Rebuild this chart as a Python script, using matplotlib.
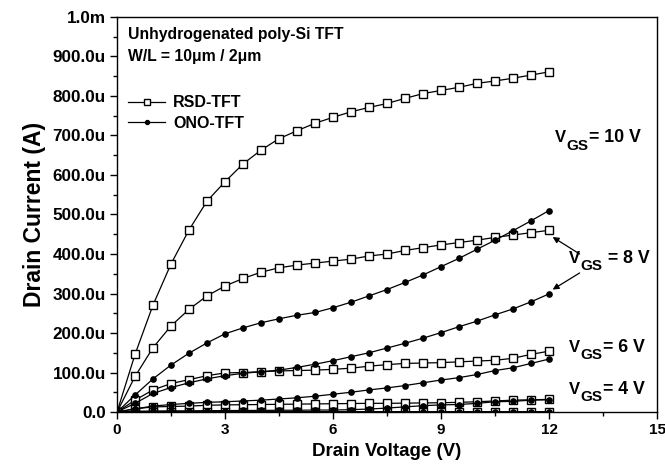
import matplotlib
matplotlib.use("Agg")
import matplotlib.pyplot as plt
from matplotlib.ticker import FuncFormatter, MultipleLocator
from matplotlib.transforms import offset_copy

plt.rcParams["font.family"] = ["Liberation Sans", "DejaVu Sans"]
plt.rcParams["font.weight"] = "bold"

# drain voltage sweep (V)
vd = [0, 0.5, 1, 1.5, 2, 2.5, 3, 3.5, 4, 4.5, 5, 5.5, 6,
      6.5, 7, 7.5, 8, 8.5, 9, 9.5, 10, 10.5, 11, 11.5, 12]

# drain current in uA
rsd_10 = [0, 146, 271, 375, 461, 534, 583, 628, 663, 692, 712, 731, 746,
          760, 771, 781, 794, 806, 814, 822, 832, 838, 845, 853, 861]
rsd_8 = [0, 90, 163, 218, 260, 294, 319, 338, 354, 365, 372, 377, 382,
         387, 395, 400, 409, 416, 423, 429, 435, 442, 448, 454, 460]
rsd_6 = [0, 30, 56, 72, 82, 92, 99, 100, 102, 104, 105, 106, 108,
         111, 116, 120, 123, 124, 125, 127, 129, 131, 136, 146, 154]
rsd_4 = [0, 8, 13, 14, 15, 17, 18, 18.5, 19, 19.5, 20, 20.5, 21,
         21.5, 22, 22, 22.5, 23, 23.5, 24.5, 26, 28, 30, 31, 32]
rsd_2 = [0, 0.5, 0.8, 1, 1, 1, 1, 1, 1, 1, 1, 1, 1,
         1, 1, 1, 1, 1, 1, 1, 1, 1, 1, 1, 1]

ono_10 = [0, 43, 84, 119, 149, 175, 198, 213, 226, 236, 245, 252, 264,
          278, 294, 310, 328, 347, 368, 389, 412, 435, 459, 484, 510]
ono_8 = [0, 22, 47, 62, 74, 84, 92, 98, 102, 106, 113, 121, 130,
         140, 150, 162, 174, 187, 201, 216, 230, 246, 261, 279, 299]
ono_6 = [0, 8, 15, 19, 22, 24.5, 26, 28, 30, 33, 36, 40, 45,
         50, 56, 61, 67, 74, 81, 87, 95, 105, 112, 123, 134]
ono_4 = [0, 2, 2.5, 3, 3, 3.5, 3.5, 4, 4, 4.5, 4.5, 5, 5,
         6, 7.5, 10, 13, 16, 18, 19, 22, 26, 27, 30, 31]
ono_2 = [0, 0.3, 0.4, 0.5, 0.5, 0.5, 0.5, 0.5, 0.5, 0.5, 0.5, 0.5, 0.5,
         0.5, 0.5, 0.5, 0.5, 0.5, 0.5, 0.5, 0.5, 0.5, 0.5, 0.5, 0.5]

rsd_curves = [rsd_10, rsd_8, rsd_6, rsd_4, rsd_2]
ono_curves = [ono_10, ono_8, ono_6, ono_4, ono_2]

# V_GS labels: (x in V, y in uA, text after the subscript)
vgs_labels = [(12.17, 683, "= 10 V"), (12.55, 378, " = 8 V"),
              (12.55, 153, "= 6 V"), (12.55, 46, "= 4 V")]


def amp_fmt(v, pos):
    if abs(v) < 1e-12:
        return "0.0"
    if v >= 1e-3 - 1e-12:
        return f"{v * 1e3:.1f}m"
    return f"{v * 1e6:.1f}u"


fig = plt.figure(figsize=(6.65, 4.69), dpi=100)
ax = fig.add_axes([0.176, 0.1215, 0.812, 0.8423])

for i, cur in enumerate(rsd_curves):
    ax.plot(vd, [c * 1e-6 for c in cur], color="black", lw=0.9,
            marker="s", ms=6.2, mfc="white", mec="black", mew=1.0,
            label="RSD-TFT" if i == 0 else None, zorder=2)
for i, cur in enumerate(ono_curves):
    ax.plot(vd, [c * 1e-6 for c in cur], color="black", lw=0.9,
            marker="o", ms=3.8, mfc="black", mec="black",
            label="ONO-TFT" if i == 0 else None, zorder=3)

ax.set_xlim(0, 15)
ax.set_ylim(0, 1e-3)
ax.xaxis.set_major_locator(MultipleLocator(3))
ax.xaxis.set_minor_locator(MultipleLocator(1.5))
ax.yaxis.set_major_locator(MultipleLocator(100e-6))
ax.yaxis.set_minor_locator(MultipleLocator(50e-6))
ax.yaxis.set_major_formatter(FuncFormatter(amp_fmt))
ax.tick_params(which="major", direction="out", length=5, width=1,
               top=False, right=False)
ax.tick_params(which="minor", direction="out", length=3, width=1,
               top=False, right=False)
ax.tick_params(axis="y", labelsize=12.3, pad=3)
ax.tick_params(axis="x", labelsize=11, pad=3)
for s in ax.spines.values():
    s.set_linewidth(1.0)

ax.set_xlabel("Drain Voltage (V)", fontsize=13.5, fontweight="bold", labelpad=4)
ax.set_ylabel("Drain Current (A)", fontsize=16.5, fontweight="bold", labelpad=5)

ax.text(0.02, 0.955, "Unhydrogenated poly-Si TFT", transform=ax.transAxes,
        fontsize=11.3, fontweight="bold", va="center")
ax.text(0.02, 0.90, "W/L = 10\u03bcm / 2\u03bcm", transform=ax.transAxes,
        fontsize=11.3, fontweight="bold", va="center")

leg = ax.legend(loc="upper left", bbox_to_anchor=(0.0, 0.83), frameon=False,
                fontsize=11.5, handlelength=2.3, handletextpad=0.5,
                labelspacing=0.35, markerscale=0.75, borderaxespad=0.3)

# V with a large, dropped GS subscript
for x, y, rest in vgs_labels:
    ax.text(x, y * 1e-6, "V", fontsize=12, va="baseline")
    ax.text(x, y * 1e-6, "GS", fontsize=11, va="baseline",
            transform=offset_copy(ax.transData, fig=fig, x=8.0, y=-5.5,
                                  units="points"))
    ax.text(x, y * 1e-6, rest, fontsize=12.8, va="baseline",
            transform=offset_copy(ax.transData, fig=fig, x=24.5, y=0,
                                  units="points"))

arrow = dict(arrowstyle="-|>", color="black", lw=0.9, mutation_scale=9,
             shrinkA=0, shrinkB=0)
ax.annotate("", xy=(12.1, 443e-6), xytext=(12.85, 400e-6), arrowprops=arrow)
ax.annotate("", xy=(12.1, 310e-6), xytext=(12.85, 352e-6), arrowprops=arrow)

fig.savefig("out.png", dpi=100)
